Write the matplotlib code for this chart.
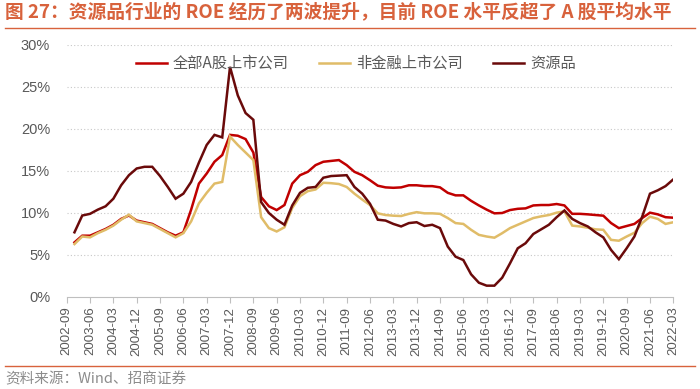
import numpy as np
import matplotlib
matplotlib.use('Agg')
import matplotlib.pyplot as plt
from matplotlib.lines import Line2D
import matplotlib.ticker as mtick

plt.rcParams['font.family'] = ['Noto Sans CJK SC', 'DejaVu Sans']

# ── Data (quarterly ROE, %) ───────────────────────────────────
years = list(range(2002, 2023))
quarters = [f'{y}-{m:02d}' for y in years for m in (3, 6, 9, 12)]
quarters = quarters[quarters.index('2002-09'):quarters.index('2022-03') + 1]

all_a = [np.nan,
         6.5, 7.3, 7.3, 7.7, 8.1, 8.6, 9.3, 9.7, 9.1, 8.9, 8.7, 8.2, 7.7,
         7.3, 7.7, 10.4, 13.5, 14.7, 16.1, 16.9, 19.3, 19.2, 18.8, 17.2,
         11.9, 10.8, 10.35, 10.95, 13.5, 14.5, 14.9, 15.7, 16.1, 16.2, 16.3,
         15.7, 14.9, 14.5, 13.9, 13.25, 13.05, 13.0, 13.05, 13.3, 13.3, 13.2,
         13.2, 13.05, 12.4, 12.1, 12.1, 11.45, 10.9, 10.4, 9.96, 10.0, 10.35,
         10.5, 10.55, 10.9, 10.95, 10.95, 11.07, 10.9, 9.9, 9.9, 9.84, 9.76,
         9.68, 8.8, 8.2, 8.45, 8.7, 9.4, 10.04, 9.84, 9.5, 9.44]

non_fin = [np.nan,
           6.3, 7.2, 7.1, 7.6, 8.0, 8.5, 9.2, 9.8, 9.0, 8.8, 8.6, 8.1, 7.6,
           7.1, 7.6, 9.0, 11.15, 12.4, 13.5, 13.7, 19.1, 18.1, 17.2, 16.3,
           9.5, 8.2, 7.8, 8.3, 10.6, 12.0, 12.6, 12.8, 13.6, 13.55, 13.45,
           13.1, 12.3, 11.6, 10.95, 9.96, 9.76, 9.68, 9.64, 9.9, 10.1, 9.96,
           9.96, 9.9, 9.4, 8.8, 8.7, 8.0, 7.4, 7.2, 7.06, 7.6, 8.2,
           8.6, 9.0, 9.4, 9.6, 9.76, 10.04, 10.2, 8.5, 8.4, 8.25, 8.05,
           8.0, 6.8, 6.7, 7.2, 7.65, 8.8, 9.56, 9.3, 8.7, 8.9]

resources = [np.nan,
             7.7, 9.7, 9.9, 10.4, 10.8, 11.7, 13.3, 14.5, 15.3, 15.5, 15.5, 14.4, 13.1,
             11.7, 12.3, 13.7, 16.0, 18.1, 19.3, 19.0, 27.4, 24.0, 21.9, 21.1,
             11.3, 10.0, 9.2, 8.6, 10.9, 12.4, 13.0, 13.1, 14.2, 14.4, 14.45,
             14.5, 13.1, 12.3, 11.1, 9.2, 9.1, 8.7, 8.4, 8.8, 8.9, 8.45,
             8.6, 8.2, 6.0, 4.8, 4.4, 2.7, 1.7, 1.35, 1.35, 2.3, 4.0,
             5.8, 6.4, 7.5, 8.05, 8.6, 9.5, 10.3, 9.3, 8.8, 8.4, 7.7,
             7.1, 5.6, 4.5, 5.8, 7.2, 9.56, 12.3, 12.7, 13.2, 14.0]

series_names = ['全部A股上市公司', '非金融上市公司', '资源品']

RED    = '#C00000'
YELLOW = '#E0BC68'
DARK   = '#6A0A0A'
ACCENT = '#D8623C'
GREY   = '#595959'

# ── Figure ────────────────────────────────────────────────────
fig = plt.figure(figsize=(7.0, 3.89), dpi=100)
ax = fig.add_axes([66.7/700, 1 - 297/389, (673.3 - 66.7)/700, (297 - 45)/389])

x = np.arange(len(quarters))
for vals, name, color in zip([all_a, non_fin, resources], series_names, [RED, YELLOW, DARK]):
    ax.plot(x, np.array(vals) / 100, color=color, lw=1.8, label=name,
            solid_joinstyle='miter')

ax.set_xlim(0, len(quarters) - 1)
ax.set_ylim(0, 0.30)
ax.yaxis.set_major_locator(mtick.MultipleLocator(0.05))
ax.yaxis.set_major_formatter(mtick.PercentFormatter(1.0, decimals=0))
for yv in np.arange(0.05, 0.301, 0.05):
    ax.axhline(yv, color='#C8C8C8', lw=0.8, ls=(0, (1, 2)), zorder=0)

ax.set_xticks(x[::3])
ax.set_xticklabels(quarters[::3], rotation=90, fontsize=9.5, color=GREY,
                   family=['Liberation Sans', 'DejaVu Sans'])
for lab in ax.get_yticklabels():
    lab.set_family(['Liberation Sans', 'DejaVu Sans'])
ax.tick_params(axis='y', length=0, labelsize=10.5, labelcolor=GREY, pad=12)
ax.tick_params(axis='x', length=4, color='#BFBFBF', width=0.8, pad=3)

for s in ['top', 'right', 'left']:
    ax.spines[s].set_visible(False)
ax.spines['bottom'].set_color('#BFBFBF')
ax.spines['bottom'].set_linewidth(0.8)

leg = ax.legend(loc='upper center', bbox_to_anchor=(0.477, 1.015), ncol=3, frameon=False,
                fontsize=11, handlelength=2.0, columnspacing=2.0, handletextpad=0.4)
for t in leg.get_texts():
    t.set_color(GREY)

# title / rules / source
fig.text(5/700, 1 - 13/389, '图 27：资源品行业的 ROE 经历了两波提升，目前 ROE 水平反超了 A 股平均水平',
         fontsize=13.5, fontweight='bold', color=ACCENT, va='center', ha='left')
fig.add_artist(Line2D([5/700, 695/700], [1 - 28/389, 1 - 28/389], color=ACCENT, lw=1.0))
fig.add_artist(Line2D([5/700, 695/700], [1 - 366/389, 1 - 366/389], color=ACCENT, lw=1.0))
fig.text(5/700, 1 - 379/389, '资料来源：Wind、招商证券', fontsize=10.5, color='#8C8C8C',
         va='center', ha='left')

fig.savefig('out.png', dpi=100)
